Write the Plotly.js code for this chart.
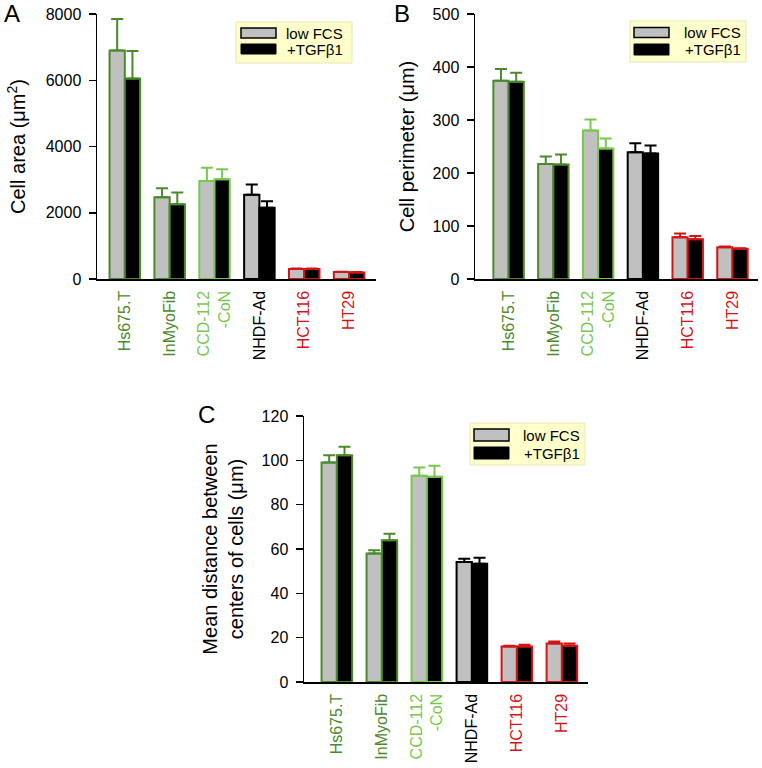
<!DOCTYPE html>
<html>
<head>
<meta charset="utf-8">
<script src="https://cdn.plot.ly/plotly-3.0.1.min.js"></script>
<style>html,body{margin:0;padding:0;background:#fff}</style>
</head>
<body>
<div id="chart" style="width:762px;height:768px"></div>
<script>
// ---- data ----
const categories = ["Hs675.T", "InMyoFib", "CCD-112<br>-CoN", "NHDF-Ad", "HCT116", "HT29"];
const categoryColors = ["#4a8a2c", "#4a8a2c", "#78c850", "#000000", "#d41515", "#d41515"];
const seriesNames = ["low FCS", "+TGFβ1"];

// Panel A: cell area (µm²)
const areaLowFCS = [6900, 2470, 2960, 2540, 300, 210];
const areaLowFCSErr = [950, 270, 400, 310, 20, 10];
const areaTGF = [6050, 2260, 3010, 2150, 300, 200];
const areaTGFErr = [830, 350, 300, 200, 20, 10];

// Panel B: cell perimeter (µm)
const perimLowFCS = [374, 217, 280, 239, 79, 60];
const perimLowFCSErr = [22, 14, 21, 17, 7, 1.5];
const perimTGF = [372, 216, 246, 237, 75, 57];
const perimTGFErr = [17, 19, 19, 15, 6, 1];

// Panel C: mean distance between centers of cells (µm)
const distLowFCS = [99, 58, 93.1, 54.1, 16, 17.4];
const distLowFCSErr = [3.3, 1.4, 3.7, 1.5, 0.3, 0.9];
const distTGF = [102.3, 64, 92.6, 53.4, 16, 16.4];
const distTGFErr = [3.8, 2.9, 5, 2.7, 0.8, 1];

// ---- helpers ----
const W = 762, H = 768;
const px = x => x / W;
const py = y => 1 - y / H;
const font = "Liberation Sans, Arial, sans-serif";
const greyFill = "#c0c0c0";

// bars plus per-category coloured one-sided error bars
function barTraces(name, vals, errs, fill, xa, ya) {
  const main = {
    type: "bar", name: name, x: categories, y: vals, xaxis: xa, yaxis: ya,
    marker: { color: fill, line: { color: categoryColors, width: 2 } },
    showlegend: false, hoverinfo: "y", offsetgroup: name
  };
  const errTraces = categoryColors.map((c, i) => ({
    type: "bar", x: categories, xaxis: xa, yaxis: ya,
    y: vals.map((v, j) => j === i ? v : null),
    marker: { color: "rgba(0,0,0,0)", line: { width: 0 } },
    error_y: { type: "data", symmetric: false,
               array: errs.map((e, j) => j === i ? e : 0), arrayminus: errs.map(() => 0),
               color: c, thickness: 2, width: 6 },
    showlegend: false, hoverinfo: "skip", offsetgroup: name
  }));
  return [main, ...errTraces];
}

const tickText = categories.map((c, i) => `<span style="color:${categoryColors[i]}">${c}</span>`);

function xAxis(domain, range, anchor) {
  return {
    domain: domain, range: range, anchor: anchor,
    showline: true, linecolor: "#000", linewidth: 1.5,
    ticks: "", tickangle: -90, tickvals: categories, ticktext: tickText,
    tickfont: { family: font, size: 16 }, ticklabelstandoff: 4,
    showgrid: false, zeroline: false, fixedrange: true
  };
}
function yAxis(domain, range, dtick, anchor, title, standoff) {
  return {
    domain: domain, range: range, anchor: anchor, dtick: dtick,
    showline: true, linecolor: "#000", linewidth: 1.5,
    ticks: "outside", ticklen: 7, tickcolor: "#000", tickwidth: 1.5,
    tickfont: { family: font, size: 16, color: "#000" }, ticklabelstandoff: 4,
    showgrid: false, zeroline: false, fixedrange: true,
    title: { text: title, font: { family: font, size: 20, color: "#000" }, standoff: standoff }
  };
}

const traces = [
  ...barTraces("A1", areaLowFCS, areaLowFCSErr, greyFill, "x", "y"),
  ...barTraces("A2", areaTGF, areaTGFErr, "#000", "x", "y"),
  ...barTraces("B1", perimLowFCS, perimLowFCSErr, greyFill, "x2", "y2"),
  ...barTraces("B2", perimTGF, perimTGFErr, "#000", "x2", "y2"),
  ...barTraces("C1", distLowFCS, distLowFCSErr, greyFill, "x3", "y3"),
  ...barTraces("C2", distTGF, distTGFErr, "#000", "x3", "y3")
];

// legends drawn as shapes + text
const shapes = [], annotations = [];
function legendBox(x0, y0, x1, y1, sx0, sx1, g0, g1, k0, k1, tx) {
  shapes.push({ type: "rect", xref: "paper", yref: "paper", x0: px(x0), x1: px(x1), y0: py(y0), y1: py(y1),
    fillcolor: "#ffffcc", line: { color: "#e6e6b4", width: 1 }, layer: "above" });
  shapes.push({ type: "rect", xref: "paper", yref: "paper", x0: px(sx0), x1: px(sx1), y0: py(g0), y1: py(g1),
    fillcolor: greyFill, line: { color: "#000", width: 1.5 }, layer: "above" });
  shapes.push({ type: "rect", xref: "paper", yref: "paper", x0: px(sx0), x1: px(sx1), y0: py(k0), y1: py(k1),
    fillcolor: "#000", line: { color: "#000", width: 1 }, layer: "above" });
  annotations.push({ xref: "paper", yref: "paper", x: px(tx), y: py((g0 + g1) / 2), xanchor: "right", yanchor: "middle",
    text: seriesNames[0], showarrow: false, font: { family: font, size: 15, color: "#000" } });
  annotations.push({ xref: "paper", yref: "paper", x: px(tx), y: py((k0 + k1) / 2), xanchor: "right", yanchor: "middle",
    text: seriesNames[1], showarrow: false, font: { family: font, size: 15, color: "#000" } });
}
legendBox(236, 22, 352, 63, 241, 276, 28, 38, 44, 54, 345);
legendBox(630, 21, 746, 62, 634, 669, 27.5, 37.5, 44, 55, 743);
legendBox(470, 423, 585, 465, 474, 509, 429, 441, 447, 459, 582);

function panelLetter(t, x, y) {
  annotations.push({ xref: "paper", yref: "paper", x: px(x), y: py(y), xanchor: "center", yanchor: "middle",
    text: t, showarrow: false, font: { family: font, size: 24, color: "#000" } });
}
panelLetter("A", 12, 14);
panelLetter("B", 402, 14);
panelLetter("C", 206, 414);

const layout = {
  width: W, height: H,
  margin: { l: 0, r: 0, t: 0, b: 0 },
  paper_bgcolor: "#fff", plot_bgcolor: "rgba(0,0,0,0)",
  barmode: "group", bargap: 0.32, bargroupgap: 0,
  showlegend: false,
  font: { family: font },
  xaxis: xAxis([px(97), px(376)], [-0.62, 5.6], "y"),
  yaxis: yAxis([py(279), py(14)], [0, 8000], 2000, "x", "Cell area (μm<sup>2</sup>)", 14),
  xaxis2: xAxis([px(475), px(758)], [-0.75, 5.57], "y2"),
  yaxis2: yAxis([py(279), py(14)], [0, 500], 100, "x2", "Cell perimeter (μm)", 12),
  xaxis3: xAxis([px(304), px(588)], [-0.73, 5.58], "y3"),
  yaxis3: yAxis([py(682), py(416)], [0, 120], 20, "x3", "Mean distance between<br>centers of cells (μm)", 12),
  shapes: shapes,
  annotations: annotations
};

Plotly.newPlot("chart", traces, layout, { displayModeBar: false, staticPlot: true });
</script>
</body>
</html>
